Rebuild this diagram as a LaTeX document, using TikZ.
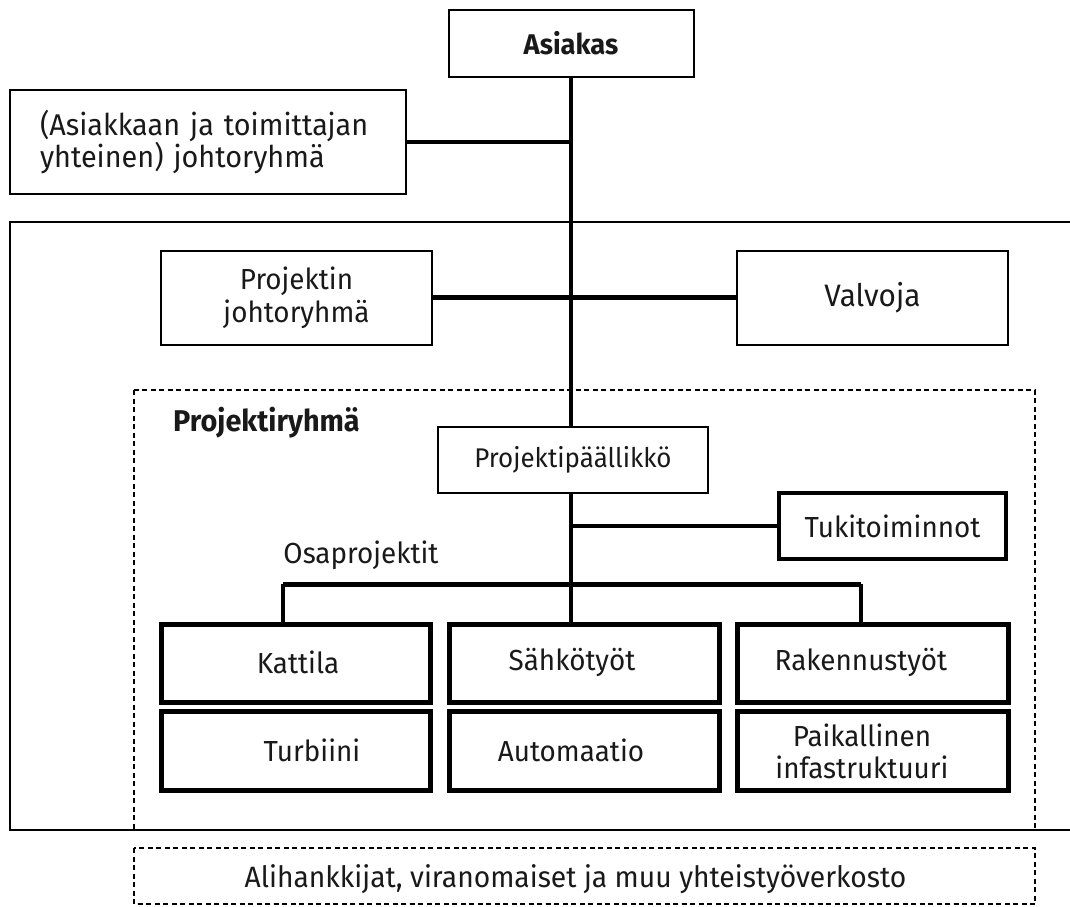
\documentclass[tikz,border=0pt]{standalone}
\usepackage{fontspec}
\setmainfont[FakeStretch=0.96]{Fira Sans}
\begin{document}
\begin{tikzpicture}[x=1pt,y=-1pt,
  every node/.style={font=\fontsize{29}{33}\selectfont, text=black!90},
  thinbox/.style={draw, line width=2pt, inner sep=0pt, align=center},
  midbox/.style={draw, line width=4pt, inner sep=0pt},
  thickbox/.style={draw, line width=5pt, inner sep=0pt},
  link/.style={line width=3.5pt},
  thicklink/.style={line width=5pt},
  frame/.style={line width=2pt},
  dframe/.style={line width=1.6pt, dash pattern=on 5pt off 3.5pt},
  lbl/.style={inner sep=0pt}]
\useasboundingbox (0,0) rectangle (1070,906);

% outer frame (open on the right)
\draw[frame] (1070,222) -- (10,222) -- (10,830) -- (1070,830);
% dashed frames
\draw[dframe] (134,390) rectangle (1035,830);
\draw[dframe] (134,848) rectangle (1035,904);

\node[thinbox, minimum width=245pt, minimum height=67pt, font=\fontsize{28.5}{33}\selectfont\bfseries] (asiakas) at (571,43.5) {Asiakas};
\node[thinbox, minimum width=396pt, minimum height=104pt, text width=336pt, align=left, font=\fontsize{30}{32}\selectfont] (johto) at (208,142)
  {(Asiakkaan ja toimittajan\\yhteinen) johtoryhmä};

\node[thinbox, minimum width=271pt, minimum height=94pt] (pjohto) at (296.5,297.5) {Projektin\\johtoryhmä};
\node[thinbox, minimum width=271pt, minimum height=94pt, font=\fontsize{31}{33}\selectfont] (valvoja) at (872.5,297.5) {Valvoja};

\node[lbl, anchor=west, font=\fontsize{30}{33}\selectfont\bfseries] (pryhma) at (173,423) {Projektiryhmä};
\node[thinbox, minimum width=270pt, minimum height=66pt, font=\fontsize{27}{33}\selectfont] (pp) at (573,460) {Projektipäällikkö};
\node[midbox, minimum width=227pt, minimum height=66pt] (tuki) at (892.5,526) {Tukitoiminnot};
\node[lbl] (osa) at (361,555) {Osaprojektit};

% sub-project boxes
\node[thickbox, minimum width=269pt, minimum height=78pt] (kat) at (296,663.5) {};
\node[thickbox, minimum width=270pt, minimum height=78pt] (sah) at (584.5,663.5) {};
\node[thickbox, minimum width=271pt, minimum height=78pt] (rak) at (873,663.5) {};
\node[thickbox, minimum width=269pt, minimum height=79pt] (tur) at (296,751) {};
\node[thickbox, minimum width=270pt, minimum height=79pt] (aut) at (584.5,751) {};
\node[thickbox, minimum width=271pt, minimum height=79pt] (pai) at (873,751) {};
\node[lbl] (katt) at (298,662) {Kattila};
\node[lbl] (saht) at (572,662) {Sähkötyöt};
\node[lbl] (rakt) at (861,662) {Rakennustyöt};
\node[lbl] (turt) at (312,750) {Turbiini};
\node[lbl] (autt) at (571,750) {Automaatio};
\node[lbl, align=center, font=\fontsize{29}{32}\selectfont] (pait) at (862,751) {Paikallinen\\infastruktuuri};

\node[lbl, font=\fontsize{29.4}{33}\selectfont] (ali) at (575.5,879) {Alihankkijat, viranomaiset ja muu yhteistyöverkosto};

% connectors
\coordinate (j1) at (asiakas.south |- johto.east);
\coordinate (t1) at (asiakas.south |- tuki.west);
\coordinate (b0) at (asiakas.south |- 0,584);
\coordinate (bl) at (283,584);
\coordinate (br) at (861,584);
\draw[link] (asiakas.south) -- (asiakas.south |- pp.north);
\draw[link] (johto.east) -- (j1);
\draw[thicklink] (pjohto.east) -- (valvoja.west);
\draw[link] (asiakas.south |- pp.south) -- (b0);
\draw[link] (t1) -- (tuki.west);
\draw[thicklink] (bl) -- (br);
\draw[link] (bl) -- (bl |- kat.north);
\draw[link] (b0) -- (b0 |- sah.north);
\draw[link] (br) -- (br |- rak.north);
\end{tikzpicture}
\end{document}
